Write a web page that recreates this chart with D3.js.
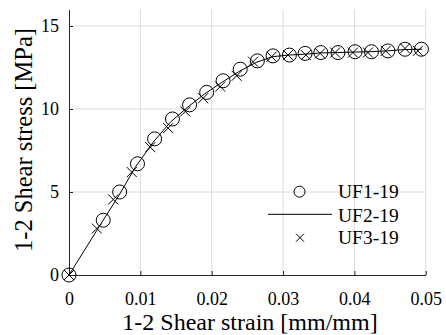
<!DOCTYPE html>
<html><head><meta charset="utf-8">
<script src="https://cdn.jsdelivr.net/npm/d3@7"></script>
<style>html,body{margin:0;padding:0;background:#fff;}svg{display:block;}
svg text{font-family:"Liberation Serif","Times New Roman",Times,"DejaVu Serif",serif !important;}</style>
</head><body>
<script>
const uf1Strain = [0, 0.0048, 0.0071, 0.0096, 0.0120, 0.0145, 0.0169, 0.0193, 0.0216, 0.0240, 0.0264, 0.0286, 0.0309, 0.0331, 0.0353, 0.0377, 0.0401, 0.0424, 0.0447, 0.0471, 0.0494];
const uf1Stress = [0, 3.3, 5.0, 6.7, 8.2, 9.4, 10.25, 11.0, 11.7, 12.4, 12.9, 13.2, 13.25, 13.35, 13.4, 13.4, 13.45, 13.45, 13.5, 13.6, 13.6];
const uf2Strain = [0, 0.0045, 0.0070, 0.0093, 0.0118, 0.0142, 0.0166, 0.0190, 0.0214, 0.0238, 0.0262, 0.0285, 0.0308, 0.0330, 0.0353, 0.0376, 0.0400, 0.0423, 0.0446, 0.0470, 0.0495];
const uf2Stress = [0, 3.1, 4.8, 6.5, 8.0, 9.2, 10.1, 10.9, 11.6, 12.25, 12.8, 13.15, 13.25, 13.3, 13.38, 13.4, 13.43, 13.45, 13.5, 13.58, 13.6];
const uf3Strain = [0, 0.0039, 0.0062, 0.0088, 0.0114, 0.0139, 0.0163, 0.0188, 0.0212, 0.0235, 0.0258, 0.0284, 0.0307, 0.0332, 0.0352, 0.0373, 0.0398, 0.0419, 0.0444, 0.0471, 0.0489];
const uf3Stress = [0, 2.8, 4.55, 6.2, 7.7, 8.85, 9.85, 10.65, 11.35, 12.0, 12.85, 13.15, 13.25, 13.25, 13.35, 13.4, 13.4, 13.4, 13.5, 13.65, 13.5];
const xTicks = [0, 0.01, 0.02, 0.03, 0.04, 0.05];
const yTicks = [0, 5, 10, 15];
const seriesNames = ["UF1-19", "UF2-19", "UF3-19"];
const xTitle = "1-2 Shear strain [mm/mm]";
const yTitle = "1-2 Shear stress [MPa]";

const W = 446, H = 335;
const svg = d3.select("body").append("svg").attr("width", W).attr("height", H);
const x = d3.scaleLinear().domain([0, 0.05]).range([69, 425.7]);
const y = d3.scaleLinear().domain([0, 16]).range([275, 9.4]);

// grid
const g = svg.append("g");
g.selectAll("line.vg").data(xTicks.filter(d => d > 0)).enter().append("line")
  .attr("x1", d => x(d)).attr("x2", d => x(d)).attr("y1", y(0)).attr("y2", y(16))
  .attr("stroke", "#dcdcdc").attr("stroke-width", 1);
g.selectAll("line.hg").data(yTicks.filter(d => d > 0)).enter().append("line")
  .attr("x1", x(0)).attr("x2", x(0.05)).attr("y1", d => y(d)).attr("y2", d => y(d))
  .attr("stroke", "#dcdcdc").attr("stroke-width", 1);

// axes
const xAxis = d3.axisBottom(x).tickValues(xTicks).tickSizeInner(-4).tickSizeOuter(0)
  .tickPadding(0).tickFormat(d => d === 0 ? "0" : d3.format(".2f")(d));
const gx = svg.append("g").attr("transform", `translate(0,${y(0)})`).call(xAxis);
gx.selectAll(".tick text").attr("dy", null).attr("y", 30);
const yAxis = d3.axisLeft(y).tickValues(yTicks).tickSizeInner(-4).tickSizeOuter(0)
  .tickPadding(10).tickFormat(d3.format("d"));
const gy = svg.append("g").attr("transform", `translate(${x(0)},0)`).call(yAxis);
[gx, gy].forEach(a => {
  a.attr("font-family", null);
  a.selectAll("path.domain").attr("stroke", "#262626").attr("stroke-width", 1);
  a.selectAll(".tick line").attr("stroke", "#262626");
  a.selectAll("text").attr("font-size", 18).attr("fill", "#000");
});

// titles
svg.append("text").attr("x", 250).attr("y", 330).attr("text-anchor", "middle")
  .attr("font-size", 24).attr("fill", "#000").text(xTitle);
svg.append("text").attr("transform", `translate(32,140) rotate(-90)`).attr("text-anchor", "middle")
  .attr("font-size", 24.5).attr("fill", "#000").text(yTitle);

// line UF2
const uf2 = uf2Strain.map((s, i) => [s, uf2Stress[i]]);
svg.append("path").datum(uf2)
  .attr("d", d3.line().x(d => x(d[0])).y(d => y(d[1])))
  .attr("fill", "none").attr("stroke", "#000").attr("stroke-width", 1);

// circles UF1
svg.selectAll("circle.uf1").data(uf1Strain.map((s, i) => [s, uf1Stress[i]])).enter()
  .append("circle").attr("cx", d => x(d[0])).attr("cy", d => y(d[1])).attr("r", 7)
  .attr("fill", "none").attr("stroke", "#000").attr("stroke-width", 1);

// crosses UF3
const cs = 5;
const crossPath = (cx, cy, s) => `M${cx - s},${cy - s}L${cx + s},${cy + s}M${cx - s},${cy + s}L${cx + s},${cy - s}`;
svg.selectAll("path.uf3").data(uf3Strain.map((s, i) => [s, uf3Stress[i]])).enter()
  .append("path").attr("d", d => crossPath(x(d[0]), y(d[1]), cs))
  .attr("fill", "none").attr("stroke", "#000").attr("stroke-width", 1);

// legend
const lg = svg.append("g");
const rows = [191.7, 214.3, 237.7];
lg.append("circle").attr("cx", 299.5).attr("cy", rows[0]).attr("r", 5.5)
  .attr("fill", "none").attr("stroke", "#000").attr("stroke-width", 1);
lg.append("line").attr("x1", 268).attr("x2", 332).attr("y1", rows[1]).attr("y2", rows[1])
  .attr("stroke", "#000").attr("stroke-width", 1);
lg.append("path").attr("d", crossPath(300, rows[2], 4))
  .attr("fill", "none").attr("stroke", "#000").attr("stroke-width", 1);
const baselines = [198.3, 221.5, 243.5];
seriesNames.forEach((n, i) => {
  lg.append("text").attr("x", 338).attr("y", baselines[i])
    .attr("font-size", 19.5).attr("fill", "#000").text(n);
});
</script>
</body></html>
